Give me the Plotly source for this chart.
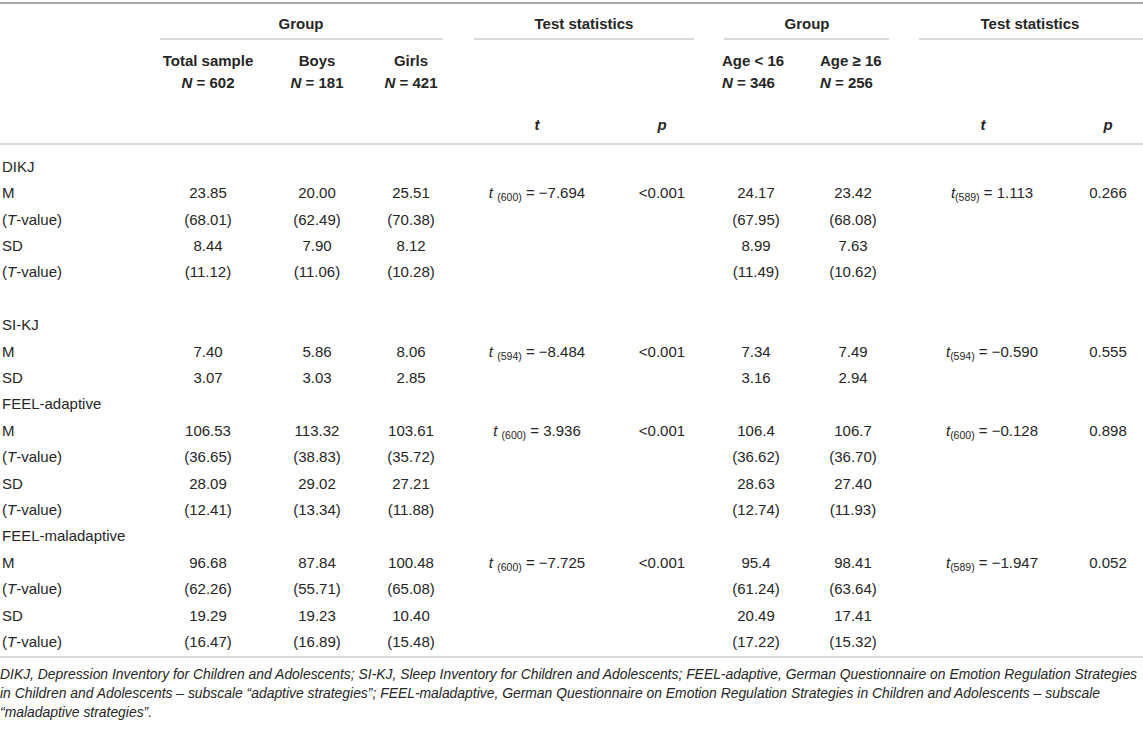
import plotly.graph_objects as go

# row labels (first column)
row_labels = ["DIKJ", "M", "(<i>T</i>-value)", "SD", "(<i>T</i>-value)", "",
              "SI-KJ", "M", "SD",
              "FEEL-adaptive", "M", "(<i>T</i>-value)", "SD", "(<i>T</i>-value)",
              "FEEL-maladaptive", "M", "(<i>T</i>-value)", "SD", "(<i>T</i>-value)"]

total = ["", "23.85", "(68.01)", "8.44", "(11.12)", "", "", "7.40", "3.07",
         "", "106.53", "(36.65)", "28.09", "(12.41)", "", "96.68", "(62.26)", "19.29", "(16.47)"]
boys = ["", "20.00", "(62.49)", "7.90", "(11.06)", "", "", "5.86", "3.03",
        "", "113.32", "(38.83)", "29.02", "(13.34)", "", "87.84", "(55.71)", "19.23", "(16.89)"]
girls = ["", "25.51", "(70.38)", "8.12", "(10.28)", "", "", "8.06", "2.85",
         "", "103.61", "(35.72)", "27.21", "(11.88)", "", "100.48", "(65.08)", "10.40", "(15.48)"]
age_lt16 = ["", "24.17", "(67.95)", "8.99", "(11.49)", "", "", "7.34", "3.16",
            "", "106.4", "(36.62)", "28.63", "(12.74)", "", "95.4", "(61.24)", "20.49", "(17.22)"]
age_ge16 = ["", "23.42", "(68.08)", "7.63", "(10.62)", "", "", "7.49", "2.94",
            "", "106.7", "(36.70)", "27.40", "(11.93)", "", "98.41", "(63.64)", "17.41", "(15.32)"]

# test statistics, placed on the "M" row of each measure
stat_rows = [1, 7, 10, 15]
sex_df = ["600", "594", "600", "600"]
sex_t = ["−7.694", "−8.484", "3.936", "−7.725"]
sex_p = ["<0.001", "<0.001", "<0.001", "<0.001"]
age_df = ["589", "594", "600", "589"]
age_t = ["1.113", "−0.590", "−0.128", "−1.947"]
age_p = ["0.266", "0.555", "0.898", "0.052"]

footnote = [
    "DIKJ, Depression Inventory for Children and Adolescents; SI-KJ, Sleep Inventory for Children and Adolescents; "
    "FEEL-adaptive, German Questionnaire on Emotion Regulation Strategies",
    "in Children and Adolescents – subscale “adaptive strategies”; FEEL-maladaptive, German Questionnaire on "
    "Emotion Regulation Strategies in Children and Adolescents – subscale",
    "“maladaptive strategies”.",
]

W, H = 1143, 730
TXT = "#262626"
RULE = "#b4b4b4"
FONT = "Liberation Sans, Arial, sans-serif"
FS = 15
DY = 3  # text baseline nudge

n = len(row_labels)
row_y = [165 + DY + 26.4 * i for i in range(n)]


def spread(rows, vals):
    out = [""] * n
    for r, v in zip(rows, vals):
        out[r] = v
    return out


sex_tcol = spread(stat_rows, [f"<i>t</i> <sub>({d})</sub> = {v}" for d, v in zip(sex_df, sex_t)])
sex_pcol = spread(stat_rows, sex_p)
age_tcol = spread(stat_rows, [f"<i>t</i><sub>({d})</sub> = {v}" for d, v in zip(age_df, age_t)])
age_pcol = spread(stat_rows, age_p)

fig = go.Figure()


def add_text(x, y, text, pos="middle center", size=FS):
    keep = [i for i, t in enumerate(text) if t]
    fig.add_trace(go.Scatter(
        x=[x[i] for i in keep], y=[y[i] for i in keep], text=[text[i] for i in keep],
        mode="text", textposition=pos,
        textfont=dict(family=FONT, size=size, color=TXT),
        hoverinfo="skip", showlegend=False, cliponaxis=False))


# body
add_text([2] * n, row_y, row_labels, pos="middle right")
for vals, xc in [(total, 208), (boys, 317), (girls, 411), (sex_tcol, 537), (sex_pcol, 662),
                 (age_lt16, 756), (age_ge16, 853), (age_tcol, 992), (age_pcol, 1108)]:
    add_text([xc] * n, row_y, vals)

# header
group_heads = ["<b>Group</b>", "<b>Test statistics</b>", "<b>Group</b>", "<b>Test statistics</b>"]
add_text([301, 584, 807, 1030], [22 + DY] * 4, group_heads)
sub1 = ["<b>Total sample</b>", "<b>Boys</b>", "<b>Girls</b>"]
sub2 = ["<b><i>N</i> = 602</b>", "<b><i>N</i> = 181</b>", "<b><i>N</i> = 421</b>"]
add_text([208, 317, 411], [59 + DY] * 3, sub1)
add_text([208, 317, 411], [81 + DY] * 3, sub2)
add_text([722, 820], [59 + DY] * 2, ["<b>Age < 16</b>", "<b>Age ≥ 16</b>"], pos="middle right")
add_text([722, 820], [81 + DY] * 2, ["<b><i>N</i> = 346</b>", "<b><i>N</i> = 256</b>"], pos="middle right")
add_text([537, 662, 983, 1108], [123 + DY] * 4, ["<b><i>t</i></b>", "<b><i>p</i></b>"] * 2)

# footnote
add_text([0] * 3, [673 + DY, 692 + DY, 711 + DY], [f"<i>{s}</i>" for s in footnote],
         pos="middle right", size=13.9)

# rules
shapes = [dict(type="line", x0=0, x1=W, y0=3, y1=3, line=dict(color="#a8a8a8", width=2))]
for x0, x1 in [(160, 443), (474, 694), (724, 889), (919, W)]:
    shapes.append(dict(type="line", x0=x0, x1=x1, y0=39, y1=39, line=dict(color=RULE, width=1)))
for yy in [144, 657]:
    shapes.append(dict(type="line", x0=0, x1=W, y0=yy, y1=yy, line=dict(color=RULE, width=1)))
for s in shapes:
    s.update(xref="x", yref="y", layer="below")

fig.update_layout(
    width=W, height=H,
    margin=dict(l=0, r=0, t=0, b=0),
    paper_bgcolor="white", plot_bgcolor="white",
    xaxis=dict(range=[0, W], visible=False, fixedrange=True),
    yaxis=dict(range=[H, 0], visible=False, fixedrange=True),
    shapes=shapes,
)

fig.write_html("out.html", config={"displayModeBar": False},
               post_script="document.body.style.margin='0px';document.body.style.overflow='hidden';")
